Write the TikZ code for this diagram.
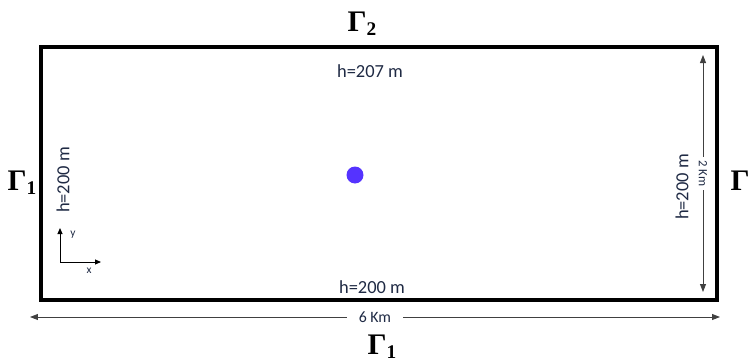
\documentclass[tikz,border=0pt]{standalone}
\usepackage{amsmath,amssymb}
\usepackage{fontspec}
\setmainfont{Carlito}
\newfontfamily\bndfont{Liberation Serif}
\usepackage{xcolor}
\usepackage{tikz}
\usetikzlibrary{positioning,arrows.meta}

\definecolor{labelblue}{HTML}{1F2A44}
\definecolor{wellblue}{HTML}{5533FF}

% boundary name, Gamma with an index
\newcommand{\bnd}[1]{{\bndfont\bfseries Γ\raisebox{-0.3ex}{\fontsize{11}{11}\selectfont #1}}}

\begin{document}
\begin{tikzpicture}[
    x=0.02cm, y=-0.02cm,
    >={Triangle[length=1.6mm, width=1.2mm]},
    domainbox/.style={rectangle, draw=black, line width=2.3pt, minimum width=13.52cm, minimum height=5.06cm, inner sep=0pt},
    bound/.style={font=\fontsize{17}{17}\selectfont, text=black, inner sep=0pt},
    head/.style={font=\fontsize{10.5}{12}\selectfont, text=labelblue, inner sep=1pt},
    dimen/.style={<->, line width=0.5pt, draw=black!75},
    dimlabel/.style={text=labelblue, fill=white},
    axis/.style={->, >={Triangle[length=1.2mm, width=1mm]}, line width=0.5pt},
    axlabel/.style={font=\fontsize{6.5}{7}\selectfont, text=labelblue, inner sep=0pt}
]
\useasboundingbox (0,0) rectangle (748,362);

% Domain
\node[domainbox] (domain) at (379,173.5) {};

% Boundary names
\node[bound] (gtop) at (362,24) {\bnd{2}};
\node[bound] (gleft) at (22,183) {\bnd{1}};
\node[bound] (gright) at (745,183) {\bnd{1}};
\node[bound] (gbottom) at (382,347) {\bnd{1}};

% Heads on the boundaries
\node[head] (htop) at (370,71) {h=207 m};
\node[head] (hbottom) at (372,287) {h=200 m};
\node[head, rotate=90] (hleft) at (63,180) {h=200 m};
\node[head, rotate=90] (hright) at (682,187) {h=200 m};

% Well
\node[circle, fill=wellblue, inner sep=0pt, minimum size=0.34cm] (well) at (355,175) {};

% Dimensions
\coordinate (wtop) at (703,55);
\coordinate (wbot) at (703,292);
\draw[dimen] (wtop) -- node[dimlabel, rotate=-90, font=\fontsize{7.2}{8}\selectfont, inner xsep=2pt, inner ysep=1pt] {2 Km} (wbot);

\coordinate (lleft) at (30,317);
\coordinate (lright) at (720,317);
\draw[dimen] (lleft) -- node[dimlabel, font=\fontsize{9}{10}\selectfont, inner xsep=7pt, inner ysep=1pt] {6 Km} (lright);

% Axes
\coordinate (origin) at (60,262);
\coordinate (yend) at (60,228);
\coordinate (xend) at (101,262);
\draw[axis] (origin) -- (yend);
\draw[axis] (origin) -- (xend);
\node[axlabel] (ylab) at (73,235) {y};
\node[axlabel] (xlab) at (89,271) {x};

\end{tikzpicture}
\end{document}
